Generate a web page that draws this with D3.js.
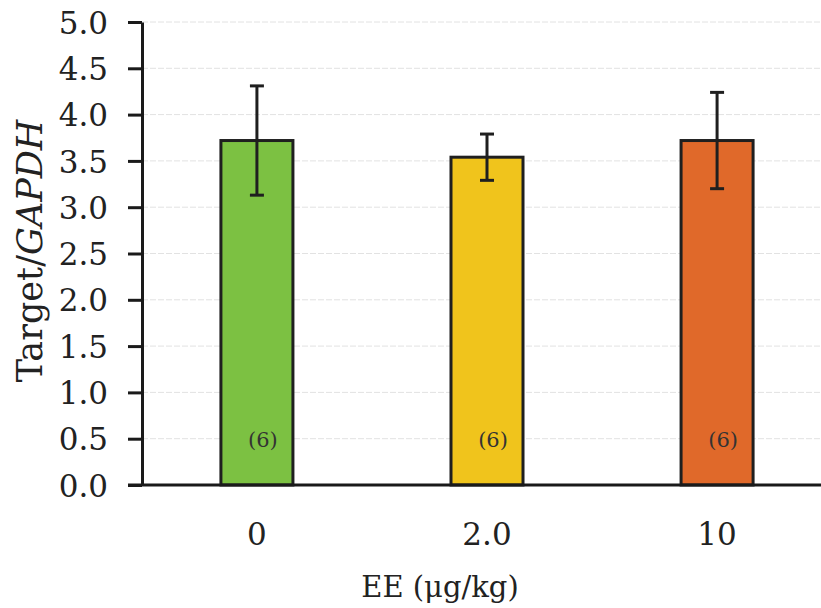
<!DOCTYPE html>
<html><head><meta charset="utf-8">
<script src="https://cdn.jsdelivr.net/npm/d3@7"></script>
<style>body{margin:0;background:#fff}</style>
</head><body>
<svg id="c" width="821" height="608"></svg>
<script>
const categories = ["0", "2.0", "10"];
const means = [3.72, 3.54, 3.72];
const sds = [0.59, 0.25, 0.52];
const nLabels = ["(6)", "(6)", "(6)"];
const colors = ["#7cc142", "#f0c41c", "#e0692a"];
const yTicks = [0, 0.5, 1, 1.5, 2, 2.5, 3, 3.5, 4, 4.5, 5];

(function () {
const svg = d3.select("#c");
const mL = 142, mR = 832, mT = 22, mB = 485;
const font = "'DejaVu Serif', serif";

const x = d3.scaleBand().domain(categories).range([mL, mR]).paddingInner(0.687).paddingOuter(0.343);
const y = d3.scaleLinear().domain([0, 5]).range([mB, mT]);

// gridlines
svg.append("g").selectAll("line").data(yTicks.slice(1)).join("line")
  .attr("x1", mL).attr("x2", 821).attr("y1", d => y(d)).attr("y2", d => y(d))
  .attr("stroke", "#e2e2e2").attr("stroke-width", 1).attr("stroke-dasharray", "6,2");

// y axis
const yAxis = d3.axisLeft(y).tickValues(yTicks).tickFormat(d3.format(".1f")).tickSize(14).tickSizeOuter(0);
const gy = svg.append("g").attr("transform", `translate(${mL},0)`).call(yAxis);
gy.select(".domain").attr("stroke", "#1a1a1a").attr("stroke-width", 3);
gy.selectAll(".tick line").attr("stroke", "#1a1a1a").attr("stroke-width", 3);
gy.selectAll(".tick text").attr("font-family", font).attr("font-size", 31).attr("fill", "#222").attr("x", -34).attr("dy", "0.36em");

// bars
svg.append("g").selectAll("rect").data(categories).join("rect")
  .attr("x", d => x(d)).attr("width", x.bandwidth())
  .attr("y", (d, i) => y(means[i])).attr("height", (d, i) => y(0) - y(means[i]))
  .attr("fill", (d, i) => colors[i]).attr("stroke", "#1f1f1f").attr("stroke-width", 3);

// error bars
const eb = svg.append("g").attr("stroke", "#1f1f1f").attr("stroke-width", 3);
categories.forEach((c, i) => {
  const cx = x(c) + x.bandwidth() / 2;
  eb.append("line").attr("x1", cx).attr("x2", cx).attr("y1", y(means[i] + sds[i])).attr("y2", y(means[i] - sds[i]));
  eb.append("line").attr("x1", cx - 7).attr("x2", cx + 7).attr("y1", y(means[i] + sds[i])).attr("y2", y(means[i] + sds[i]));
  eb.append("line").attr("x1", cx - 7).attr("x2", cx + 7).attr("y1", y(means[i] - sds[i])).attr("y2", y(means[i] - sds[i]));
});

// n labels
svg.append("g").selectAll("text").data(categories).join("text")
  .attr("x", d => x(d) + x.bandwidth() / 2 + 6).attr("y", y(0.5) + 8)
  .attr("text-anchor", "middle").attr("font-family", font).attr("font-size", 21).attr("fill", "#333")
  .text((d, i) => nLabels[i]);

// x axis line
svg.append("line").attr("x1", 128).attr("x2", 821).attr("y1", mB).attr("y2", mB)
  .attr("stroke", "#1a1a1a").attr("stroke-width", 3);

// x tick labels
const xAxis = d3.axisBottom(x).tickSize(0).tickPadding(0);
const gx = svg.append("g").attr("transform", `translate(0,${mB})`).call(xAxis);
gx.select(".domain").remove();
gx.selectAll(".tick text").attr("font-family", font).attr("font-size", 31).attr("fill", "#222").attr("y", 60).attr("dy", 0);

// axis titles
svg.append("text").attr("x", 440).attr("y", 597).attr("text-anchor", "middle")
  .attr("font-family", font).attr("font-size", 29).attr("fill", "#222").text("EE (μg/kg)");

const yt = svg.append("text").attr("transform", "translate(42,251) rotate(-90)").attr("text-anchor", "middle")
  .attr("font-family", font).attr("font-size", 35).attr("fill", "#222");
yt.append("tspan").text("Target/");
yt.append("tspan").attr("font-style", "italic").text("GAPDH");
})();
</script>
</body></html>
